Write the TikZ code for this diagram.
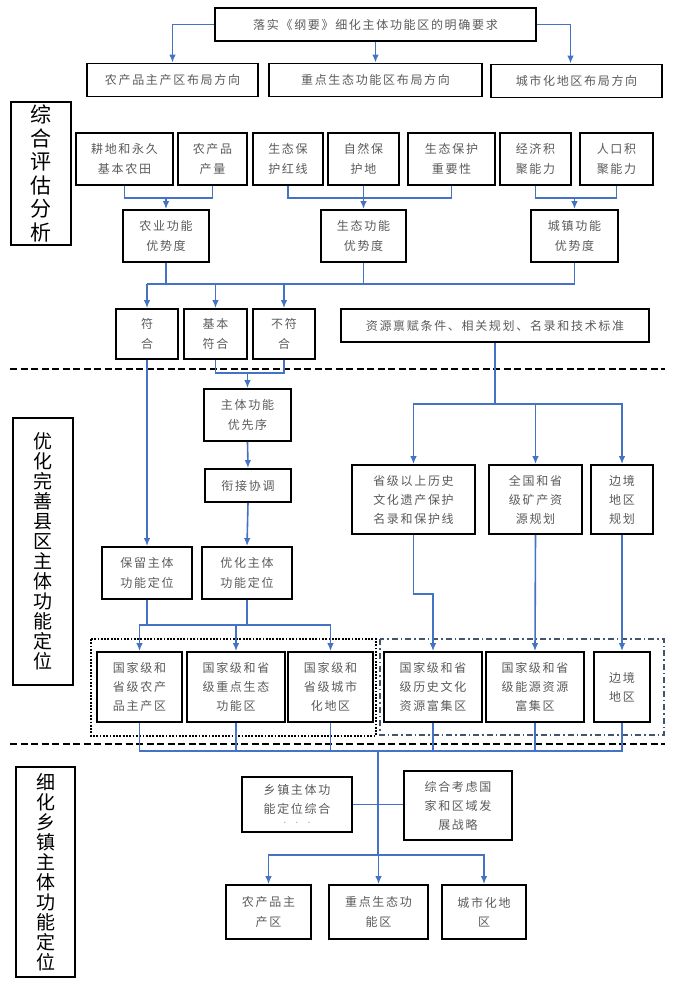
\documentclass[tikz,border=0pt]{standalone}
\usepackage{fontspec}
\setmainfont{Noto Sans CJK SC}
\newfontfamily\boxfont{Noto Sans CJK SC}[LetterSpace=14]
\usetikzlibrary{calc,arrows.meta}
\definecolor{lineblue}{HTML}{4472C4}
\definecolor{txtgray}{HTML}{5A5A5A}
\definecolor{framegray}{HTML}{44546A}
\tikzset{>={Latex[length=8pt,width=6.5pt]}}
\tikzset{
  box/.style = {draw, line width=1.7pt, inner sep=0pt, align=center,
    text=txtgray, font={\boxfont\fontsize{12}{19.5}\selectfont}},
  lab/.style = {draw, line width=1.7pt, inner sep=0pt, align=center,
    font={\fontsize{19}{20}\selectfont}},
  link/.style = {draw=lineblue, line width=1.6pt},
  flow/.style = {link, ->},
  sepline/.style = {line width=2.4pt, dash pattern=on 7pt off 3.5pt}
}
\newcommand{\rowh}{52pt}
\newcommand{\lineh}{33pt}

\begin{document}
\begin{tikzpicture}[x=1pt,y=-1pt]
  \useasboundingbox (0,0) rectangle (676,986);
  % section separators and frames
  \draw[sepline] (10,369) -- (665,369);
  \draw[sepline] (10,744) -- (665,744);
  \draw[line width=2.4pt, dash pattern=on 1.8pt off 1.5pt] (91,639) rectangle (376,736);
  \draw[framegray, line width=1.3pt, dash pattern=on 6pt off 3pt on 1.5pt off 3pt] (380,639) rectangle (664,735);

  % section labels
  \node[lab, minimum width=60pt, minimum height=143pt, font={\fontsize{21}{23.5}\selectfont}] (lab1) at (41,173.5) {综\\合\\评\\估\\分\\析};
  \node[lab, minimum width=60pt, minimum height=267pt] (lab2) at (43,551.5) {优\\化\\完\\善\\县\\区\\主\\体\\功\\能\\定\\位};
  \node[lab, minimum width=59pt, minimum height=210pt] (lab3) at (45.5,872) {细\\化\\乡\\镇\\主\\体\\功\\能\\定\\位};

  % top
  \node[box, minimum width=321pt, minimum height=\lineh] (top) at (375.5,24.5) {落实《纲要》细化主体功能区的明确要求};
  \node[box, minimum width=171pt, minimum height=\lineh] (dirA) at (172.5,80) {农产品主产区布局方向};
  \node[box, minimum width=213pt, minimum height=\lineh] (dirB) at (375.5,80) {重点生态功能区布局方向};
  \node[box, minimum width=171pt, minimum height=\lineh] (dirC) at (576.5,81) {城市化地区布局方向};
  \draw[flow] (top.west) -| (dirA.north);
  \draw[flow] (top.south) -- (dirB.north);
  \draw[flow] (top.east) -| ([xshift=-6pt]dirC.north);

  % factors
  \node[box, minimum width=97pt, minimum height=\rowh] (f1) at (124.5,159) {耕地和永久\\基本农田};
  \node[box, minimum width=69pt, minimum height=\rowh] (f2) at (212.5,159) {农产品\\产量};
  \node[box, minimum width=70pt, minimum height=\rowh] (f3) at (288,159) {生态保\\护红线};
  \node[box, minimum width=71pt, minimum height=\rowh] (f4) at (363.5,159) {自然保\\护地};
  \node[box, minimum width=87pt, minimum height=\rowh] (f5) at (451.5,159) {生态保护\\重要性};
  \node[box, minimum width=71pt, minimum height=\rowh] (f6) at (535.5,159) {经济积\\聚能力};
  \node[box, minimum width=73pt, minimum height=\rowh] (f7) at (616.5,159) {人口积\\聚能力};

  \node[box, minimum width=86pt, minimum height=\rowh] (agri) at (166,236) {农业功能\\优势度};
  \node[box, minimum width=85pt, minimum height=\rowh] (eco) at (363.5,236) {生态功能\\优势度};
  \node[box, minimum width=87pt, minimum height=\rowh] (urb) at (574.5,236) {城镇功能\\优势度};

  \coordinate (j1) at (166,198);
  \coordinate (j2) at (363.5,198);
  \coordinate (j3) at (574.5,198);
  \draw[link] (f1.south) |- (j1) -| (f2.south);
  \draw[link] (f3.south) |- (j2) -| (f5.south);
  \draw[link] (f4.south) -- (j2);
  \draw[link] (f6.south) |- (j3) -| (f7.south);
  \draw[flow] (j1) -- (agri.north);
  \draw[flow] (j2) -- (eco.north);
  \draw[flow] (j3) -- (urb.north);

  % match
  \node[box, minimum width=62pt, minimum height=50pt] (fit) at (147,334) {符\\合};
  \node[box, minimum width=63pt, minimum height=50pt] (bfit) at (215.5,334) {基本\\符合};
  \node[box, minimum width=62pt, minimum height=50pt] (nfit) at (284,334) {不符\\合};
  \node[box, minimum width=308pt, minimum height=\lineh] (res) at (495,325.5) {资源禀赋条件、相关规划、名录和技术标准};

  \coordinate (bus1) at (147,284);
  \draw[link] (bus1) -| (urb.south);
  \draw[link] (agri.south) -- (agri.south |- bus1);
  \draw[link] (eco.south) -- (eco.south |- bus1);
  \draw[flow] (bus1) -- (fit.north);
  \draw[flow] (bfit.north |- bus1) -- (bfit.north);
  \draw[flow] (nfit.north |- bus1) -- (nfit.north);

  % county level
  \node[box, minimum width=87pt, minimum height=\rowh] (prio) at (247.5,415) {主体功能\\优先序};
  \node[box, minimum width=86pt, minimum height=\lineh] (harm) at (248,485.5) {衔接协调};
  \node[box, minimum width=90pt, minimum height=\rowh] (keep) at (147,573) {保留主体\\功能定位};
  \node[box, minimum width=90pt, minimum height=\rowh] (opt) at (247,573) {优化主体\\功能定位};

  \coordinate (j4) at (247.5,373);
  \draw[link] (bfit.south) |- (j4) -| (nfit.south);
  \draw[flow] (j4) -- (prio.north);
  \draw[flow] (prio.south) -- (harm.north);
  \draw[flow] (harm.south) -- (opt.north);
  \draw[flow] (fit.south) -- (keep.north);

  \node[box, minimum width=123pt, minimum height=69pt, font={\boxfont\fontsize{12}{19}\selectfont}] (hist) at (413.5,499.5) {省级以上历史\\文化遗产保护\\名录和保护线};
  \node[box, minimum width=93pt, minimum height=69pt, font={\boxfont\fontsize{12}{19}\selectfont}] (mine) at (535.5,499.5) {全国和省\\级矿产资\\源规划};
  \node[box, minimum width=62pt, minimum height=69pt, font={\boxfont\fontsize{12}{19}\selectfont}] (bord) at (622,499.5) {边境\\地区\\规划};

  \coordinate (j5) at (495,404);
  \draw[link] (res.south) -- (j5);
  \draw[flow] (j5) -| (hist.north);
  \draw[flow] (j5) -| (bord.north);
  \draw[flow] (mine.north |- j5) -- (mine.north);

  % zones
  \node[box, minimum width=85pt, minimum height=70pt, font={\boxfont\fontsize{12}{19}\selectfont}] (z1) at (139.5,687) {国家级和\\省级农产\\品主产区};
  \node[box, minimum width=98pt, minimum height=70pt, font={\boxfont\fontsize{12}{19}\selectfont}] (z2) at (236,687) {国家级和省\\级重点生态\\功能区};
  \node[box, minimum width=85pt, minimum height=70pt, font={\boxfont\fontsize{12}{19}\selectfont}] (z3) at (330.5,687) {国家级和\\省级城市\\化地区};
  \node[box, minimum width=98pt, minimum height=70pt, font={\boxfont\fontsize{12}{19}\selectfont}] (z4) at (433,687) {国家级和省\\级历史文化\\资源富集区};
  \node[box, minimum width=98pt, minimum height=70pt, font={\boxfont\fontsize{12}{19}\selectfont}] (z5) at (535,687) {国家级和省\\级能源资源\\富集区};
  \node[box, minimum width=56pt, minimum height=70pt, font={\boxfont\fontsize{12}{19}\selectfont}] (z6) at (622,687) {边境\\地区};

  \coordinate (j6) at (247,625);
  \draw[link] (keep.south) -- (keep.south |- j6);
  \draw[link] (opt.south) -- (j6);
  \draw[flow] (j6) -| (z1.north);
  \draw[flow] (j6) -| (z3.north);
  \draw[flow] (z2.north |- j6) -- (z2.north);
  \draw[flow] (hist.south) -- ++(0,59) -| (z4.north);
  \draw[flow] (mine.south) -- (z5.north);
  \draw[flow] (bord.south) -- (z6.north);

  % township level
  \coordinate (j7) at (378,751);
  \draw[link] (z1.south) |- (j7) -| (z6.south);
  \foreach \z in {z2,z3,z4,z5}
    \draw[link] (\z.south) -- (\z.south |- j7);

  \node[box, minimum width=110pt, minimum height=55pt] (town) at (297,804.5) {乡镇主体功\\能定位综合\\[-8pt]{\fontsize{7}{7}\selectfont\color{gray!60}·\ \ ·\ \ ·}};
  \node[box, minimum width=108pt, minimum height=69pt, font={\boxfont\fontsize{12}{19}\selectfont}] (dev) at (458,805.5) {综合考虑国\\家和区域发\\展战略};
  \draw[link] (town.east) -- (town.east -| dev.west);

  \node[box, minimum width=85pt, minimum height=54pt] (t1) at (268.5,912) {农产品主\\产区};
  \node[box, minimum width=99pt, minimum height=54pt] (t2) at (378.5,912) {重点生态功\\能区};
  \node[box, minimum width=84pt, minimum height=54pt] (t3) at (484,912) {城市化地\\区};

  \coordinate (j8) at (378,855);
  \draw[link] (j7) -- (j8);
  \draw[flow] (j8) -| (t1.north);
  \draw[flow] (j8) -| (t3.north);
  \draw[flow] (j8) -- (j8 -| t2.north) -- (t2.north);
\end{tikzpicture}
\end{document}
